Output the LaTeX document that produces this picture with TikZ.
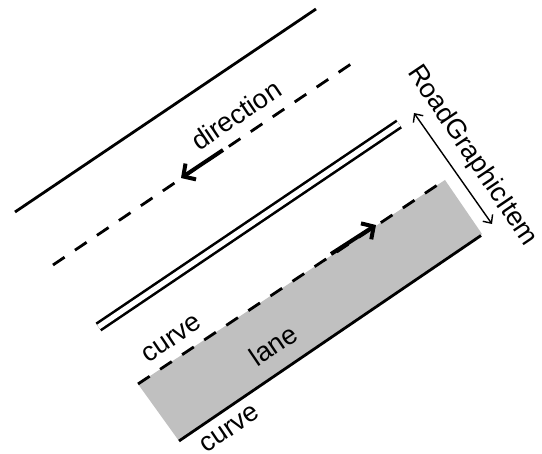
\documentclass[tikz,border=0pt]{standalone}
\usepackage{fontspec}
\setmainfont{Liberation Sans}
\usetikzlibrary{arrows.meta}
\definecolor{lanegray}{RGB}{192,192,192}
\tikzset{
  road/.style={line width=2.8pt},
  dashroad/.style={line width=2.8pt, dash pattern=on 14pt off 12.5pt},
  bigarrow/.style={line width=4pt, -{Straight Barb[length=9pt,width=19pt]}},
  dimarrow/.style={line width=1.4pt, {Straight Barb[length=6.5pt,width=12pt]}-{Straight Barb[length=6.5pt,width=12pt]}},
  lbl/.style={font=\fontsize{27}{32}\selectfont, inner sep=0pt},
}
\begin{document}
\begin{tikzpicture}[x=1pt,y=-1pt]
\useasboundingbox (0,0) rectangle (542,454);
% lane
\coordinate (L1) at (138,384);
\coordinate (L2) at (445,180);
\coordinate (L3) at (482,234);
\coordinate (L4) at (179,441);
\fill[lanegray] (L1) -- (L2) -- (L3) -- (L4) -- cycle;
% outer road edge
\coordinate (A1) at (15,212);
\coordinate (A2) at (316,9);
\draw[road] (A1) -- (A2);
% dashed centre line of upper lane
\coordinate (B1) at (53,265);
\coordinate (B2) at (351,64);
\draw[dashroad] (B1) -- (B2);
% double line
\coordinate (C1) at (98.5,327);
\coordinate (C2) at (399,124);
\draw[line width=2.6pt, double=white, double distance=5.2pt] (C1) -- (C2);
% lane dashed edge
\draw[dashroad] (L1) -- (L2);
% lane solid edge
\draw[road] (L4) -- (481,235.5);
% direction arrows
\coordinate (D1) at (223,150);
\coordinate (D2) at (181,178);
\draw[bigarrow] (D1) -- (D2);
\coordinate (E1) at (331,254);
\coordinate (E2) at (376,225);
\draw[bigarrow] (E1) -- (E2);
% RoadGraphicItem dimension
\coordinate (F1) at (414,113);
\coordinate (F2) at (492,224);
\draw[dimarrow] (F1) -- (F2);
% labels
\node[lbl, rotate=34] (dir) at (236,115) {direction};
\node[lbl, rotate=34] (cu1) at (172,339) {curve};
\node[lbl, rotate=34] (lane) at (273,345) {lane};
\node[lbl, rotate=34] (cu2) at (230,429) {curve};
\node[lbl, rotate=-56] (rgi) at (472,156) {RoadGraphicItem};
\end{tikzpicture}
\end{document}
